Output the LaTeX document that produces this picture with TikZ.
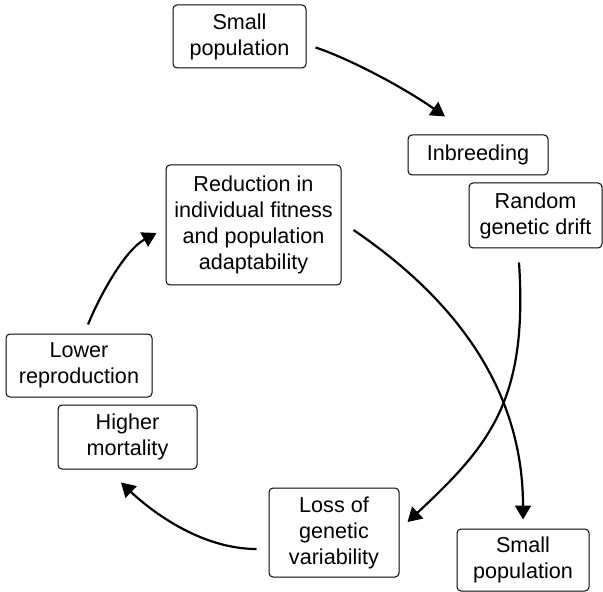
\documentclass[tikz,border=0pt]{standalone}
\usepackage{fontspec}
\setmainfont{Liberation Sans}
\usetikzlibrary{arrows.meta}
\begin{document}
\begin{tikzpicture}[x=0.5pt,y=-0.5pt,
  stage/.style={draw,rounded corners=2pt,line width=0.5pt,align=center,inner sep=0pt,font=\fontsize{10.8}{13}\selectfont},
  flow/.style={line width=1.1pt,-{Triangle[length=7pt,width=8pt]}}]
\useasboundingbox (0,0) rectangle (603,592);

\node[stage,minimum width=66.5pt,minimum height=31.5pt] (smalltop) at (239.5,36.5) {Small\\population};
\node[stage,minimum width=70pt,minimum height=20pt] (inbreed) at (478,155) {Inbreeding};
\node[stage,minimum width=66.5pt,minimum height=32.5pt] (drift) at (535.5,215.5) {Random\\genetic drift};
\node[stage,minimum width=87.5pt,minimum height=60pt] (reduce) at (253.5,225) {Reduction in\\individual fitness\\and population\\adaptability};
\node[stage,minimum width=73pt,minimum height=31.5pt] (lower) at (79,365.5) {Lower\\reproduction};
\node[stage,minimum width=69.5pt,minimum height=32pt] (higher) at (127.5,437) {Higher\\mortality};
\node[stage,minimum width=65pt,minimum height=44.5pt] (loss) at (334,532.5) {Loss of\\genetic\\variability};
\node[stage,minimum width=66pt,minimum height=31pt] (smallbot) at (523,560) {Small\\population};

\draw[flow] ([shift={(9,11)}]smalltop.east) .. controls (345,57) and (400,85) .. ([shift={(-33,-18)}]inbreed.north);
\draw[flow] ([shift={(12,5)}]reduce.east) .. controls (477,314) and (523,410) .. ([shift={(0,-9)}]smallbot.north);
\draw[flow] ([shift={(-16.5,14)}]drift.south) .. controls (528,400) and (490,445) .. ([shift={(8,-10.5)}]loss.east);
\draw[flow] ([shift={(-12,16.5)}]loss.west) .. controls (200,549) and (150,510) .. ([shift={(-6.5,13)}]higher.south);
\draw[flow] ([shift={(9,-9)}]lower.north) .. controls (100,295) and (125,250) .. ([shift={(-9,8)}]reduce.west);

\end{tikzpicture}
\end{document}
